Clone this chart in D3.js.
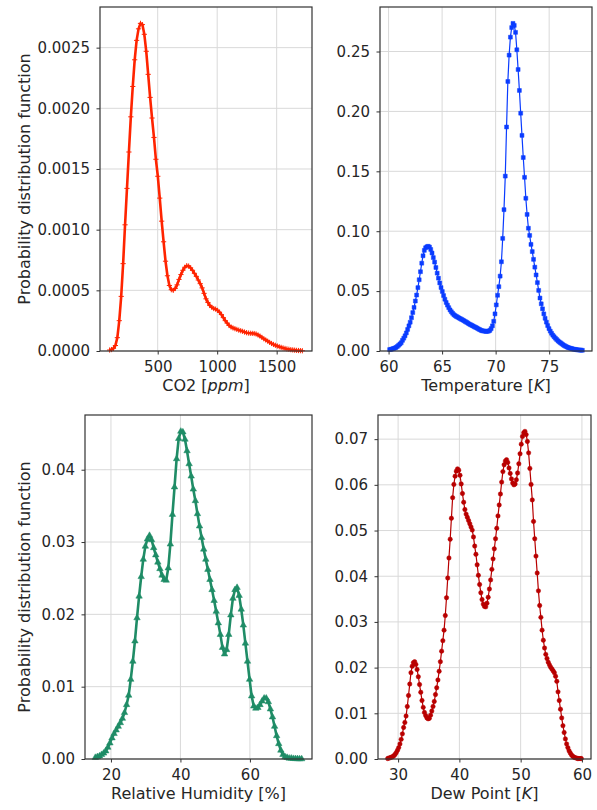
<!DOCTYPE html>
<html>
<head>
<meta charset="utf-8">
<script src="https://cdn.jsdelivr.net/npm/d3@7"></script>
<style>
  body { margin: 0; background: #ffffff; }
  svg text { font-family: "DejaVu Sans", sans-serif; fill: #262626; }
</style>
</head>
<body>
<svg id="chart" width="597" height="810"></svg>
<script>
// KDE grids: first x value and spacing of the evaluation points
var co2Start = 96, co2Step = 16.2;
var tempStart = 60.1, tempStep = 0.12;
var rhStart = 15.5, rhStep = 0.6;
var dewStart = 28.3, dewStep = 0.2;

// densities
var co2Pdf = [
  0.000008, 0.000012, 0.000022, 0.000045, 0.00011, 0.00025, 0.00045, 0.00072, 0.00104, 0.00134,
  0.00164, 0.00193, 0.00218, 0.00240, 0.00256, 0.002655, 0.00270, 0.00269, 0.00261, 0.00247,
  0.00228, 0.00209, 0.00192, 0.00176, 0.00158, 0.00144, 0.00126, 0.00107, 0.00090, 0.00074,
  0.00062, 0.00054, 0.000505, 0.00050, 0.000515, 0.000545, 0.00059, 0.00063, 0.000665, 0.00069,
  0.000703, 0.00070, 0.000685, 0.000665, 0.00064, 0.000615, 0.000585, 0.000555, 0.00052, 0.000475,
  0.00043, 0.00040, 0.000375, 0.00036, 0.00035, 0.000345, 0.000335, 0.00032, 0.00030, 0.000275,
  0.00025, 0.00023, 0.00021, 0.000198, 0.00019, 0.000184, 0.000178, 0.000172, 0.000167, 0.000162,
  0.000156, 0.000151, 0.000148, 0.000146, 0.000145, 0.000144, 0.00014, 0.000132, 0.000123, 0.000112,
  0.000101, 0.000091, 0.000081, 0.000071, 0.000062, 0.000054, 0.000047, 0.000041, 0.000035, 0.00003,
  0.000025, 0.000021, 0.000017, 0.000014, 0.000011, 0.000009, 0.000007, 0.000005, 0.000004, 0.000003,
  0.000002
];

var tempPdf = [
  0.0012, 0.0014, 0.0017, 0.0021, 0.0025, 0.003, 0.0038, 0.0048, 0.0058, 0.0069,
  0.0089, 0.0107, 0.0127, 0.0151, 0.0180, 0.021, 0.024, 0.0278, 0.0321, 0.0364,
  0.0417, 0.0467, 0.0529, 0.0595, 0.0662, 0.0733, 0.0795, 0.0840, 0.0862, 0.0870,
  0.0874, 0.0868, 0.0848, 0.0818, 0.0780, 0.0742, 0.0697, 0.0650, 0.0608, 0.0568,
  0.053, 0.0497, 0.0463, 0.0432, 0.0405, 0.0383, 0.0362, 0.0343, 0.0328, 0.0315,
  0.0303, 0.0295, 0.0288, 0.0282, 0.0276, 0.027, 0.0264, 0.0258, 0.0252, 0.0245,
  0.0239, 0.0232, 0.0225, 0.0219, 0.0214, 0.0208, 0.0202, 0.0197, 0.0191, 0.0185,
  0.0179, 0.0173, 0.0169, 0.0167, 0.0166, 0.0164, 0.0164, 0.0166, 0.0172, 0.0187,
  0.021, 0.0248, 0.031, 0.0385, 0.0465, 0.0537, 0.0625, 0.0745, 0.094, 0.118,
  0.146, 0.187, 0.225, 0.247, 0.262, 0.270, 0.2735, 0.2718, 0.266, 0.2515,
  0.235, 0.2175, 0.1985, 0.180, 0.1615, 0.145, 0.1275, 0.114, 0.1025, 0.0965,
  0.089, 0.083, 0.0765, 0.070, 0.0635, 0.0571, 0.0506, 0.0442, 0.0394, 0.0352,
  0.031, 0.0273, 0.0241, 0.0212, 0.0187, 0.0166, 0.0148, 0.0132, 0.0119, 0.0107,
  0.0096, 0.0085, 0.0076, 0.0068, 0.006, 0.0052, 0.0045, 0.0039, 0.0034, 0.0029,
  0.0025, 0.0022, 0.0019, 0.0016, 0.0014, 0.0012, 0.001, 0.0009, 0.0008, 0.0007,
  0.0006
];

var rhPdf = [
  0.0002, 0.0003, 0.0004, 0.0006, 0.0008, 0.0011, 0.0016, 0.0022, 0.0029, 0.0035,
  0.004, 0.0045, 0.005, 0.0056, 0.0064, 0.0075, 0.0088, 0.011, 0.0135, 0.0163,
  0.0195, 0.0225, 0.0252, 0.0276, 0.0294, 0.0304, 0.0309, 0.0303, 0.0292, 0.0282,
  0.0272, 0.0263, 0.0254, 0.0248, 0.0247, 0.0264, 0.0297, 0.0338, 0.0376, 0.0415,
  0.0443, 0.0453, 0.0452, 0.0442, 0.0426, 0.0408, 0.0391, 0.0373, 0.0357, 0.0339,
  0.0322, 0.0306, 0.029, 0.0276, 0.0262, 0.0248, 0.0234, 0.0219, 0.0204, 0.0188,
  0.0172, 0.0154, 0.0145, 0.0151, 0.0172, 0.0199, 0.0222, 0.0234, 0.0237, 0.0226,
  0.0207, 0.0185, 0.016, 0.0135, 0.011, 0.0087, 0.0073, 0.007, 0.0071, 0.0075,
  0.008, 0.0084, 0.0084, 0.0079, 0.0069, 0.0058, 0.0045, 0.0032, 0.0021, 0.0012,
  0.0006, 0.0003, 0.0002, 0.0001, 0.0001, 0.00005, 0.00003, 0.00002, 0.00001, 0.00001
];

var dewPdf = [
  0.0001, 0.0002, 0.0003, 0.0004, 0.0005, 0.0007, 0.001, 0.0014, 0.0019, 0.0025,
  0.0033, 0.0043, 0.0055, 0.0069, 0.008, 0.0094, 0.0115, 0.0139, 0.0164, 0.0189,
  0.0203, 0.0211, 0.0213, 0.0207, 0.0196, 0.018, 0.0163, 0.0146, 0.0128, 0.0113,
  0.0102, 0.0095, 0.009, 0.0088, 0.0089, 0.0096, 0.0105, 0.0115, 0.0126, 0.0141,
  0.0156, 0.0173, 0.0192, 0.0213, 0.0236, 0.0259, 0.0282, 0.0314, 0.0353, 0.0396,
  0.044, 0.0481, 0.0527, 0.0572, 0.0601, 0.0619, 0.063, 0.0635, 0.0632, 0.0621,
  0.0602, 0.0581, 0.0562, 0.0546, 0.0536, 0.0529, 0.0522, 0.0515, 0.0508, 0.0501,
  0.0486, 0.0466, 0.0448, 0.0425, 0.0402, 0.0382, 0.0364, 0.0349, 0.0339, 0.0334,
  0.0333, 0.0341, 0.0354, 0.0372, 0.0392, 0.0415, 0.0438, 0.046, 0.0482, 0.0505,
  0.0532, 0.0556, 0.058, 0.0606, 0.0629, 0.0644, 0.0652, 0.0655, 0.0649, 0.0637,
  0.0625, 0.0613, 0.0604, 0.06, 0.0602, 0.0611, 0.0626, 0.0646, 0.0668, 0.0689,
  0.0706, 0.0714, 0.0717, 0.071, 0.0695, 0.067, 0.0636, 0.0601, 0.0567, 0.052,
  0.0482, 0.0444, 0.0407, 0.0368, 0.0336, 0.031, 0.0282, 0.026, 0.0243, 0.0229,
  0.022, 0.0212, 0.0206, 0.0201, 0.0197, 0.0193, 0.0189, 0.0181, 0.017, 0.0147,
  0.0128, 0.0109, 0.009, 0.0073, 0.0058, 0.0044, 0.0033, 0.0025, 0.0018, 0.0013,
  0.0009, 0.0006, 0.0004, 0.0003, 0.0002, 0.0001, 0.0001, 0.0001, 0.0001
];

// tick values per panel
var co2Ticks = [500, 1000, 1500];
var tempTicks = [60, 65, 70, 75];
var rhTicks = [20, 40, 60];
var dewTicks = [30, 40, 50, 60];
var co2YTicks = [0, 0.0005, 0.001, 0.0015, 0.002, 0.0025];
var tempYTicks = [0, 0.05, 0.1, 0.15, 0.2, 0.25];
var rhYTicks = [0, 0.01, 0.02, 0.03, 0.04];
var dewYTicks = [0, 0.01, 0.02, 0.03, 0.04, 0.05, 0.06, 0.07];

var svg = d3.select("#chart");

/** turn a grid start/step and a density list into [x, y] pairs */
function toPoints(start, step, pdf) {
  return pdf.map(function(v, i) { return [start + step * i, v]; });
}

/** marker path generators, centred on 0,0 */
var markers = {
  plus: function(s) { return "M" + (-s) + ",0H" + s + "M0," + (-s) + "V" + s; },
  square: function(s) { return d3.symbol().type(d3.symbolSquare).size(s * s)(); },
  triangle: function(s) { return d3.symbol().type(d3.symbolTriangle).size(s * s * 0.6)(); },
  circle: function(s) { return d3.symbol().type(d3.symbolCircle).size(Math.PI * s * s / 4)(); }
};

function drawPanel(cfg) {
  var pts = cfg.points;
  var ext = d3.extent(pts, function(d) { return d[0]; });
  var pad = (ext[1] - ext[0]) * 0.05;
  var yMax = d3.max(pts, function(d) { return d[1]; }) * 1.05;

  var x = d3.scaleLinear().domain([ext[0] - pad, ext[1] + pad]).range([cfg.left, cfg.right]);
  var y = d3.scaleLinear().domain([0, yMax]).range([cfg.bottom, cfg.top]);

  var g = svg.append("g");

  // grid
  g.selectAll("line.gx").data(cfg.xTicks).enter().append("line")
    .attr("x1", function(d) { return x(d); }).attr("x2", function(d) { return x(d); })
    .attr("y1", cfg.top).attr("y2", cfg.bottom)
    .attr("stroke", "#d9d9d9").attr("stroke-width", 1);
  g.selectAll("line.gy").data(cfg.yTicks).enter().append("line")
    .attr("y1", function(d) { return y(d); }).attr("y2", function(d) { return y(d); })
    .attr("x1", cfg.left).attr("x2", cfg.right)
    .attr("stroke", "#d9d9d9").attr("stroke-width", 1);

  // curve
  var line = d3.line().x(function(d) { return x(d[0]); }).y(function(d) { return y(d[1]); });
  g.append("path").datum(pts)
    .attr("d", line)
    .attr("fill", "none")
    .attr("stroke", cfg.color)
    .attr("stroke-width", cfg.lineWidth)
    .attr("stroke-linejoin", "round");

  // markers
  var mk = markers[cfg.marker](cfg.markerSize);
  g.selectAll("path.mk").data(pts).enter().append("path")
    .attr("class", "mk")
    .attr("transform", function(d) { return "translate(" + x(d[0]) + "," + y(d[1]) + ")"; })
    .attr("d", mk)
    .attr("fill", cfg.marker === "plus" ? "none" : cfg.color)
    .attr("stroke", cfg.color)
    .attr("stroke-width", cfg.marker === "plus" ? 1 : 0.5);

  // axes
  var xAxis = g.append("g").attr("transform", "translate(0," + cfg.bottom + ")")
    .call(d3.axisBottom(x).tickValues(cfg.xTicks).tickSize(3.5).tickPadding(7).tickFormat(d3.format("d")));
  var yAxis = g.append("g").attr("transform", "translate(" + cfg.left + ",0)")
    .call(d3.axisLeft(y).tickValues(cfg.yTicks).tickSize(3.5).tickPadding(6.5).tickFormat(d3.format(cfg.yFmt)));
  [xAxis, yAxis].forEach(function(a) {
    a.select(".domain").remove();
    a.selectAll(".tick line").attr("stroke", "#333333").attr("stroke-width", 1);
    a.selectAll(".tick text").attr("font-size", "15px").attr("font-family", "DejaVu Sans").attr("fill", "#262626");
  });

  // frame
  g.append("rect")
    .attr("x", cfg.left).attr("y", cfg.top)
    .attr("width", cfg.right - cfg.left).attr("height", cfg.bottom - cfg.top)
    .attr("fill", "none").attr("stroke", "#333333").attr("stroke-width", 1.2);

  // x label, with the unit part in italic where the original used mathtext
  var xl = g.append("text")
    .attr("x", (cfg.left + cfg.right) / 2).attr("y", cfg.bottom + 40)
    .attr("text-anchor", "middle").attr("font-size", "16px");
  cfg.xLabel.forEach(function(part) {
    xl.append("tspan").text(part[0]).attr("font-style", part[1] ? "italic" : "normal");
  });

  if (cfg.yLabel) {
    g.append("text")
      .attr("transform", "translate(30," + ((cfg.top + cfg.bottom) / 2) + ") rotate(-90)")
      .attr("text-anchor", "middle").attr("font-size", "16px")
      .text(cfg.yLabel);
  }
}

drawPanel({
  points: toPoints(co2Start, co2Step, co2Pdf),
  left: 100, right: 312, top: 7, bottom: 351,
  xTicks: co2Ticks, yTicks: co2YTicks, yFmt: ".4f",
  color: "#ff2400", lineWidth: 2.6, marker: "plus", markerSize: 2.6,
  xLabel: [["CO2 [", false], ["ppm", true], ["]", false]],
  yLabel: "Probability distribution function"
});

drawPanel({
  points: toPoints(tempStart, tempStep, tempPdf),
  left: 380, right: 592, top: 7, bottom: 351,
  xTicks: tempTicks, yTicks: tempYTicks, yFmt: ".2f",
  color: "#0a3cff", lineWidth: 1.2, marker: "square", markerSize: 3.9,
  xLabel: [["Temperature [", false], ["K", true], ["]", false]]
});

drawPanel({
  points: toPoints(rhStart, rhStep, rhPdf),
  left: 85, right: 312, top: 415, bottom: 759,
  xTicks: rhTicks, yTicks: rhYTicks, yFmt: ".2f",
  color: "#1f8c66", lineWidth: 2.6, marker: "triangle", markerSize: 5.5,
  xLabel: [["Relative Humidity [%]", false]],
  yLabel: "Probability distribution function"
});

drawPanel({
  points: toPoints(dewStart, dewStep, dewPdf),
  left: 378, right: 591, top: 415, bottom: 759,
  xTicks: dewTicks, yTicks: dewYTicks, yFmt: ".2f",
  color: "#b80000", lineWidth: 1.2, marker: "circle", markerSize: 4.4,
  xLabel: [["Dew Point [", false], ["K", true], ["]", false]]
});
</script>
</body>
</html>
